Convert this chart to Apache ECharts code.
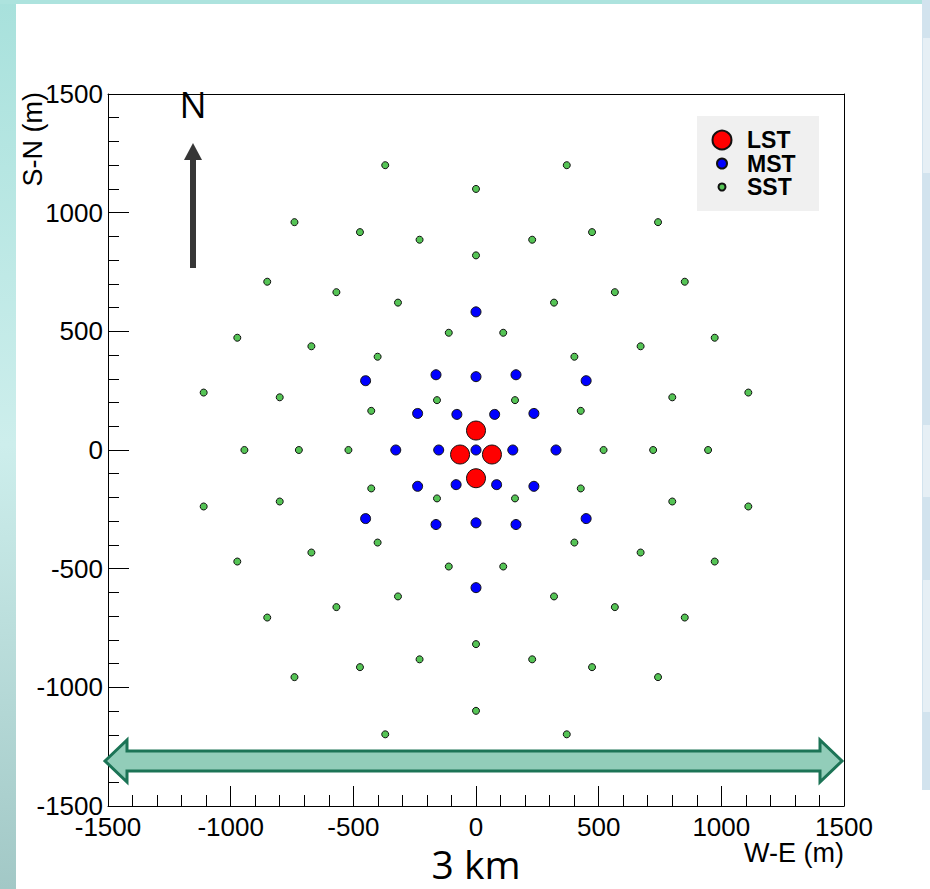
<!DOCTYPE html>
<html><head><meta charset="utf-8">
<script src="https://cdn.jsdelivr.net/npm/echarts/dist/echarts.min.js"></script>
<style>html,body{margin:0;padding:0;background:#fff;}#c{width:930px;height:889px;}</style>
</head><body><div id="c"></div>
<script>
// Axis range / ticks (m)
const axisMin = -1500, axisMax = 1500, axisStep = 500;
// LST positions (m)
const lstX = [0, -65, 65, 0];
const lstY = [82, -19, -19, -119];
// MST positions (m)
const mstX = [0, 0, 0, 0, 0, -163, 163, -163, 163, -450, 449, -450, 449, -238, 236, -238, 236, -78, 76, -81, 84, -327, 326, -152, 150];
const mstY = [0, 582, -580, 309, -307, 317, 317, -314, -314, 292, 292, -289, -289, 154, 154, -153, -153, 150, 150, -146, -146, 0, 0, 0, 0];
// SST positions (m)
const sstX = [
  -370, -740, -473, -230, -851, -569, -318, -973, -671, -111, -401, -1110, -800, -159, -427,
   370,  742,  473,  229,  851,  566,  318,  973,  671,  111,  401,  1110,  800,  159,  427,
  -370, -740, -473, -230, -851, -569, -318, -973, -671, -111, -401, -1110, -800, -159, -427,
   370,  742,  473,  229,  851,  566,  318,  973,  671,  111,  401,  1110,  800,  159,  427,
     0,    0,    0,    0, -944, -722, -520,  520,  722,  946];
const sstY = [
   1200,  960,  918,  886,  709,  665,  621,  473,  437,  494,  393,  242,  222,  210,  165,
   1200,  960,  918,  886,  709,  665,  621,  473,  437,  494,  393,  242,  222,  210,  165,
  -1198, -957, -915, -882, -706, -662, -617, -470, -432, -491, -390, -238, -217, -204, -162,
  -1198, -957, -915, -882, -706, -662, -617, -470, -432, -491, -390, -238, -217, -204, -162,
   1100,  820, -818, -1099,   0,    0,    0,    0,    0,    0];

const seriesNames = ['LST', 'MST', 'SST'];
const zip = (xs, ys) => xs.map((x, i) => [x, ys[i]]);

const FONT = 'Liberation Sans, Arial, Helvetica, sans-serif';
const chart = echarts.init(document.getElementById('c'), null, {renderer: 'svg'});

const plainNum = v => String(v);

const baseAxis = {
  type: 'value', min: axisMin, max: axisMax, interval: axisStep,
  splitLine: {show: false},
  axisLine: {show: true, onZero: false, lineStyle: {color: '#000', width: 1}},
};

function legendFor(name, size, centerY) {
  // square icon box so that the circle is centred; text pushed to x = 746
  const left = 721 - size / 2;
  const textStart = left + size + 5;
  return {
    orient: 'vertical', padding: 0, selectedMode: false, icon: 'circle',
    data: [name], left: left, top: centerY - 11, itemWidth: size, itemHeight: size,
    textStyle: {fontSize: 23, fontWeight: 'bold', color: '#000', fontFamily: FONT, lineHeight: 22,
                padding: [0, 0, 0, 746 - textStart]}
  };
}

chart.setOption({
  animation: false,
  backgroundColor: '#fff',
  grid: {left: 108, top: 94, width: 736, height: 712, containLabel: false, outerBoundsMode: 'none', show: false},
  xAxis: [
    Object.assign({}, baseAxis, {
      position: 'bottom',
      axisTick: {show: true, inside: true, length: 20, lineStyle: {color: '#000'}},
      minorTick: {show: true, splitNumber: 5, length: 11, lineStyle: {color: '#000'}},
      axisLabel: {fontSize: 26, color: '#000', fontFamily: FONT, margin: 8, formatter: plainNum,
                  showMinLabel: true, showMaxLabel: true, hideOverlap: false}
    }),
    Object.assign({}, baseAxis, {position: 'top', axisTick: {show: false}, axisLabel: {show: false}})
  ],
  yAxis: [
    Object.assign({}, baseAxis, {
      position: 'left',
      axisTick: {show: true, inside: true, length: 21, lineStyle: {color: '#000'}},
      minorTick: {show: true, splitNumber: 5, length: 11, lineStyle: {color: '#000'}},
      axisLabel: {fontSize: 26, color: '#000', fontFamily: FONT, margin: 5, formatter: plainNum,
                  showMinLabel: true, showMaxLabel: true, hideOverlap: false}
    }),
    Object.assign({}, baseAxis, {position: 'right', axisTick: {show: false}, axisLabel: {show: false}})
  ],
  legend: [
    legendFor('LST', 19, 139.5),
    legendFor('MST', 10, 163),
    legendFor('SST', 7, 186.5)
  ],
  series: [
    {name: seriesNames[2], type: 'scatter', symbol: 'circle', symbolSize: 7, z: 3,
     itemStyle: {color: '#55c455', borderColor: '#111', borderWidth: 1, opacity: 1},
     data: zip(sstX, sstY)},
    {name: seriesNames[1], type: 'scatter', symbol: 'circle', symbolSize: 10, z: 4,
     itemStyle: {color: '#0000ff', borderColor: '#111', borderWidth: 1, opacity: 1},
     data: zip(mstX, mstY)},
    {name: seriesNames[0], type: 'scatter', symbol: 'circle', symbolSize: 19, z: 5,
     itemStyle: {color: '#ff0000', borderColor: '#111', borderWidth: 1, opacity: 1},
     data: zip(lstX, lstY)}
  ],
  graphic: [
    // slide decorations
    {type: 'rect', z: 0, shape: {x: 0, y: 0, width: 16, height: 889},
     style: {fill: new echarts.graphic.LinearGradient(0, 0, 0, 1, [
       {offset: 0, color: '#a8e1dc'}, {offset: 0.5, color: '#cdeeec'}, {offset: 1, color: '#a2c8c6'}])}},
    {type: 'rect', z: 0, shape: {x: 0, y: 0, width: 922, height: 4}, style: {fill: '#ade3de'}},
    {type: 'rect', z: 0, shape: {x: 922, y: 0, width: 8, height: 790}, style: {fill: '#d2e3ee'}},
    {type: 'rect', z: 0, shape: {x: 923, y: 38, width: 7, height: 135}, style: {fill: '#e6eff5'}},
    {type: 'rect', z: 0, shape: {x: 923, y: 425, width: 7, height: 72}, style: {fill: '#e6eff5'}},
    {type: 'rect', z: 0, shape: {x: 923, y: 580, width: 7, height: 132}, style: {fill: '#e6eff5'}},
    // legend background
    {type: 'rect', z: 1, shape: {x: 697, y: 116, width: 122, height: 95}, style: {fill: '#f0f0f0'}},
    // axis titles
    {type: 'text', z: 10, x: 33, y: 92, rotation: Math.PI / 2,
     style: {text: 'S-N (m)', fontSize: 27, fontFamily: FONT, fill: '#000', align: 'right', verticalAlign: 'middle'}},
    {type: 'text', z: 10, x: 844, y: 853,
     style: {text: 'W-E (m)', fontSize: 27, fontFamily: FONT, fill: '#000', align: 'right', verticalAlign: 'middle'}},
    // 3 km label
    {type: 'text', z: 10, x: 476, y: 863,
     style: {text: '3 km', fontSize: 39, fontFamily: 'Open Sans, Noto Sans, sans-serif', fill: '#000', align: 'center', verticalAlign: 'middle'}},
    // North arrow
    {type: 'text', z: 10, x: 193, y: 104,
     style: {text: 'N', fontSize: 36, fontFamily: 'Open Sans, Noto Sans, sans-serif', fill: '#000', align: 'center', verticalAlign: 'middle'}},
    {type: 'rect', z: 10, shape: {x: 190, y: 158, width: 6, height: 110}, style: {fill: '#363636'}},
    {type: 'polygon', z: 10, shape: {points: [[193, 143], [202, 160], [184, 160]]}, style: {fill: '#363636'}},
    // 3 km double arrow
    {type: 'polygon', z: 10, shape: {points: [
      [105, 761], [127, 740], [127, 751], [820, 751], [820, 740], [842, 761],
      [820, 782], [820, 771], [127, 771], [127, 782]]},
     style: {fill: '#92cdb9', stroke: '#1c7456', lineWidth: 3, lineJoin: 'miter'}}
  ]
});
</script></body></html>
